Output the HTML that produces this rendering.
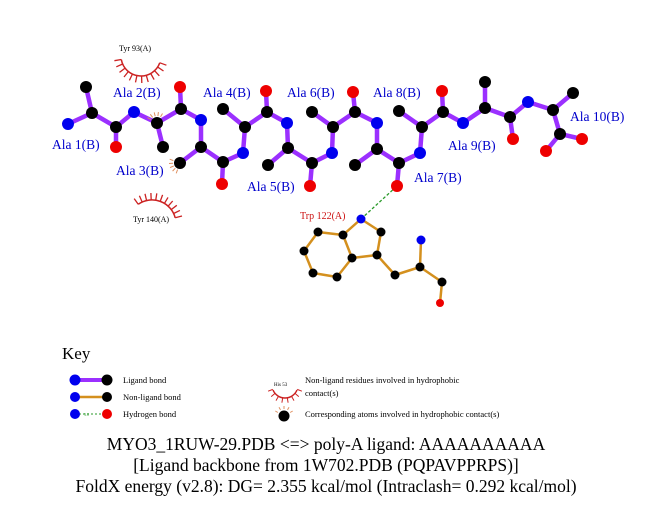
<!DOCTYPE html>
<html><head><meta charset="utf-8"><style>
body{margin:0;background:#fff;}
svg{display:block;font-family:"Liberation Serif",serif;}
</style></head><body>
<svg width="651" height="511" viewBox="0 0 651 511" xmlns="http://www.w3.org/2000/svg">
<g stroke="#9b30ff" stroke-width="4.5" stroke-linecap="round" fill="none">
<path d="M68,124 L92,113 L86,87 M92,113 L116,127 L116,147 M116,127 L134,112 L157,123 L163,147 M157,123 L181,109 L180,87 M181,109 L201,120 L201,147 L180,163 M201,147 L223,162 L222,184 M223,162 L243,153 L245,127 L223,109 M245,127 L267,112 L266,91 M267,112 L287,123 L288,148 L268,165 M288,148 L312,163 L310,186 M312,163 L332,153 L333,127 L312,112 M333,127 L355,112 L353,92 M355,112 L377,123 L377,149 L355,165 M377,149 L399,163 L397,186 M399,163 L420,153 L422,127 L399,111 M422,127 L443,112 L442,91 M443,112 L463,123 L485,108 L485,82 M485,108 L510,117 L513,139 M510,117 L528,102 L553,110 L573,93 M553,110 L560,134 L582,139 M560,134 L546,151"/>
</g>
<g stroke="#d4901e" stroke-width="2.5" fill="none" stroke-linejoin="round">
<path d="M361,219 L381,232 L377,255 L352,258 L343,235 Z M343,235 L318,232 L304,251 L313,273 L337,277 L352,258 M377,255 L395,275 L420,267 L421,240 M420,267 L442,282 L440,303"/>
</g>
<line x1="361" y1="219" x2="397" y2="186" stroke="#2a9a2a" stroke-width="1.3" stroke-dasharray="3,2"/>
<g fill="#000">
<circle cx="92" cy="113" r="6"/><circle cx="86" cy="87" r="6"/><circle cx="116" cy="127" r="6"/>
<circle cx="157" cy="123" r="6"/><circle cx="163" cy="147" r="6"/><circle cx="181" cy="109" r="6"/>
<circle cx="201" cy="147" r="6"/><circle cx="180" cy="163" r="6"/><circle cx="223" cy="162" r="6"/>
<circle cx="245" cy="127" r="6"/><circle cx="223" cy="109" r="6"/><circle cx="267" cy="112" r="6"/>
<circle cx="288" cy="148" r="6"/><circle cx="268" cy="165" r="6"/><circle cx="312" cy="163" r="6"/>
<circle cx="333" cy="127" r="6"/><circle cx="312" cy="112" r="6"/><circle cx="355" cy="112" r="6"/>
<circle cx="377" cy="149" r="6"/><circle cx="355" cy="165" r="6"/><circle cx="399" cy="163" r="6"/>
<circle cx="422" cy="127" r="6"/><circle cx="399" cy="111" r="6"/><circle cx="443" cy="112" r="6"/>
<circle cx="485" cy="108" r="6"/><circle cx="485" cy="82" r="6"/><circle cx="510" cy="117" r="6"/>
<circle cx="553" cy="110" r="6"/><circle cx="573" cy="93" r="6"/><circle cx="560" cy="134" r="6"/>
<circle cx="381" cy="232" r="4.5"/><circle cx="377" cy="255" r="4.5"/><circle cx="352" cy="258" r="4.5"/>
<circle cx="343" cy="235" r="4.5"/><circle cx="318" cy="232" r="4.5"/><circle cx="304" cy="251" r="4.5"/>
<circle cx="313" cy="273" r="4.5"/><circle cx="337" cy="277" r="4.5"/><circle cx="395" cy="275" r="4.5"/>
<circle cx="420" cy="267" r="4.5"/><circle cx="442" cy="282" r="4.5"/>
</g>
<g fill="#0000ee">
<circle cx="68" cy="124" r="6"/><circle cx="134" cy="112" r="6"/><circle cx="201" cy="120" r="6"/>
<circle cx="243" cy="153" r="6"/><circle cx="287" cy="123" r="6"/><circle cx="332" cy="153" r="6"/>
<circle cx="377" cy="123" r="6"/><circle cx="420" cy="153" r="6"/><circle cx="463" cy="123" r="6"/>
<circle cx="528" cy="102" r="6"/>
<circle cx="361" cy="219" r="4.5"/><circle cx="421" cy="240" r="4.5"/>
</g>
<g fill="#ee0000">
<circle cx="116" cy="147" r="6"/><circle cx="180" cy="87" r="6"/><circle cx="222" cy="184" r="6"/>
<circle cx="266" cy="91" r="6"/><circle cx="310" cy="186" r="6"/><circle cx="353" cy="92" r="6"/>
<circle cx="397" cy="186" r="6"/><circle cx="442" cy="91" r="6"/><circle cx="513" cy="139" r="6"/>
<circle cx="582" cy="139" r="6"/><circle cx="546" cy="151" r="6"/>
<circle cx="440" cy="303" r="4"/>
</g>
<g stroke="#cc2222" stroke-width="1.5" fill="none">
<path d="M121.3,59.5 A20,20 0 0 0 159.8,62.8"/>
<path d="M138.2,204.3 A24,24 0 0 1 175.2,217.8"/>
<path d="M273,390 A13,13 0 0 0 297,390"/>
</g>
<g stroke="#cc2222" stroke-width="1.3">
<line x1="159.8" y1="62.8" x2="166.4" y2="65.2"/><line x1="157.7" y1="67.1" x2="163.5" y2="71.0"/>
<line x1="154.6" y1="70.7" x2="159.3" y2="75.8"/><line x1="150.7" y1="73.5" x2="154.1" y2="79.6"/>
<line x1="146.3" y1="75.3" x2="148.2" y2="82.0"/><line x1="141.6" y1="76.0" x2="141.8" y2="83.0"/>
<line x1="136.9" y1="75.6" x2="135.5" y2="82.4"/><line x1="132.4" y1="74.1" x2="129.4" y2="80.4"/>
<line x1="128.4" y1="71.5" x2="124.0" y2="77.0"/><line x1="125.1" y1="68.1" x2="119.5" y2="72.4"/>
<line x1="122.7" y1="64.0" x2="116.3" y2="66.8"/><line x1="121.3" y1="59.5" x2="114.4" y2="60.7"/>
<line x1="138.2" y1="204.3" x2="134.2" y2="198.6"/><line x1="142.2" y1="202.1" x2="139.4" y2="195.7"/>
<line x1="146.6" y1="200.6" x2="145.0" y2="193.8"/><line x1="151.2" y1="200.0" x2="150.9" y2="193.0"/>
<line x1="155.7" y1="200.3" x2="156.8" y2="193.4"/><line x1="160.2" y1="201.4" x2="162.6" y2="194.9"/>
<line x1="164.4" y1="203.4" x2="168.0" y2="197.4"/><line x1="168.1" y1="206.2" x2="172.7" y2="201.0"/>
<line x1="171.2" y1="209.6" x2="176.8" y2="205.3"/><line x1="173.6" y1="213.5" x2="179.9" y2="210.4"/>
<line x1="175.2" y1="217.8" x2="182.0" y2="216.0"/>
</g>
<g stroke="#cc2222" stroke-width="1">
<line x1="297.2" y1="389.4" x2="301.9" y2="391.2"/><line x1="295.0" y1="393.4" x2="298.8" y2="396.6"/>
<line x1="291.5" y1="396.3" x2="294" y2="400.6"/><line x1="287.3" y1="397.8" x2="288.1" y2="402.7"/>
<line x1="282.7" y1="397.8" x2="281.9" y2="402.7"/><line x1="278.5" y1="396.3" x2="276" y2="400.6"/>
<line x1="275" y1="393.4" x2="271.2" y2="396.6"/><line x1="272.8" y1="389.4" x2="268.1" y2="391.2"/>
</g>
<g stroke="#e09060" stroke-width="1">
<line x1="150.9" y1="119.5" x2="147.5" y2="117.5"/><line x1="152.7" y1="117.4" x2="150.3" y2="114.3"/>
<line x1="155.2" y1="116.2" x2="154.2" y2="112.4"/><line x1="157.9" y1="116.1" x2="158.4" y2="112.1"/>
<line x1="160.5" y1="116.9" x2="162.5" y2="113.5"/>
<line x1="177.6" y1="169.6" x2="176.2" y2="173.3"/><line x1="175.3" y1="168.2" x2="172.6" y2="171.1"/>
<line x1="173.7" y1="166.0" x2="170.0" y2="167.6"/><line x1="173.0" y1="163.3" x2="169.0" y2="163.5"/>
<line x1="173.4" y1="160.6" x2="169.7" y2="159.2"/>
<line x1="277.9" y1="412.5" x2="275.3" y2="411"/><line x1="280.5" y1="409.9" x2="279" y2="407.3"/>
<line x1="284" y1="409" x2="284" y2="406"/><line x1="287.5" y1="409.9" x2="289" y2="407.3"/>
<line x1="290.1" y1="412.5" x2="292.7" y2="411"/>
</g>
<g fill="#0000cc" font-size="13.5">
<text x="52" y="149">Ala 1(B)</text>
<text x="113" y="97">Ala 2(B)</text>
<text x="116" y="175">Ala 3(B)</text>
<text x="203" y="97">Ala 4(B)</text>
<text x="247" y="191">Ala 5(B)</text>
<text x="287" y="97">Ala 6(B)</text>
<text x="414" y="182">Ala 7(B)</text>
<text x="373" y="97">Ala 8(B)</text>
<text x="448" y="150">Ala 9(B)</text>
<text x="570" y="121">Ala 10(B)</text>
</g>
<text x="300" y="219" fill="#cc1111" font-size="10">Trp 122(A)</text>
<text x="119" y="51" fill="#000" font-size="8">Tyr 93(A)</text>
<text x="133" y="222" fill="#000" font-size="8">Tyr 140(A)</text>
<text x="62" y="359" font-size="17">Key</text>
<line x1="75" y1="380" x2="107" y2="380" stroke="#9b30ff" stroke-width="4"/>
<circle cx="75" cy="380" r="5.5" fill="#0000ee"/><circle cx="107" cy="380" r="5.5" fill="#000"/>
<line x1="75" y1="397" x2="107" y2="397" stroke="#d4901e" stroke-width="2.5"/>
<circle cx="75" cy="397" r="5" fill="#0000ee"/><circle cx="107" cy="397" r="5" fill="#000"/>
<line x1="75" y1="414" x2="107" y2="414" stroke="#2a9a2a" stroke-width="1" stroke-dasharray="2,2"/>
<text x="84" y="416" font-size="4" fill="#2a9a2a">3.0</text>
<circle cx="75" cy="414" r="5" fill="#0000ee"/><circle cx="107" cy="414" r="5" fill="#ee0000"/>
<g font-size="8.5" fill="#000">
<text x="123" y="383">Ligand bond</text>
<text x="123" y="400">Non-ligand bond</text>
<text x="123" y="417">Hydrogen bond</text>
<text x="305" y="383">Non-ligand residues involved in hydrophobic</text>
<text x="305" y="396">contact(s)</text>
<text x="305" y="417">Corresponding atoms involved in hydrophobic contact(s)</text>
<text x="274" y="386" font-size="5">His 53</text>
</g>
<circle cx="284" cy="416" r="5.5" fill="#000"/>
<g font-size="17.5" fill="#000" text-anchor="middle">
<text x="326" y="450">MYO3_1RUW-29.PDB &lt;=&gt; poly-A ligand: AAAAAAAAAA</text>
<text x="326" y="471">[Ligand backbone from 1W702.PDB (PQPAVPPRPS)]</text>
<text x="326" y="492">FoldX energy (v2.8): DG= 2.355 kcal/mol (Intraclash= 0.292 kcal/mol)</text>
</g>
</svg>
</body></html>
